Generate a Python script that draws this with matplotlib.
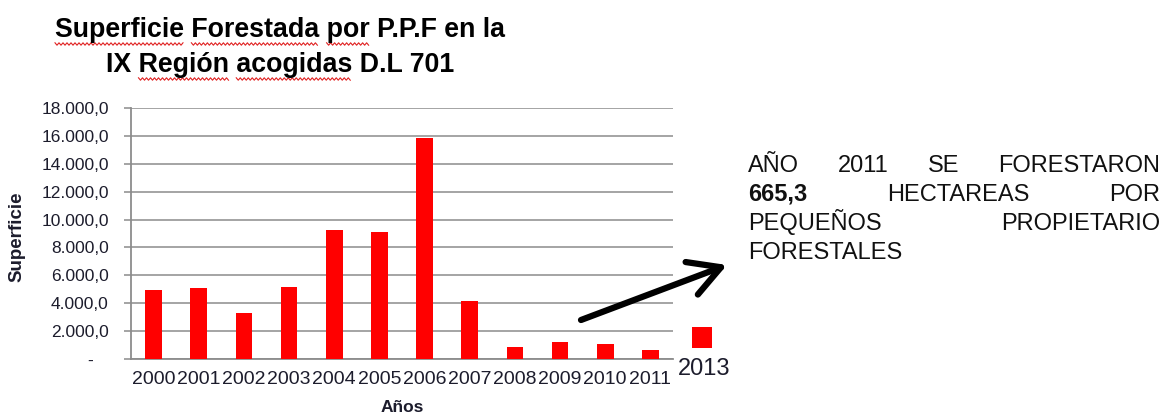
import matplotlib
matplotlib.use('Agg')
import matplotlib.pyplot as plt
from matplotlib.font_manager import FontProperties
from matplotlib.lines import Line2D
from matplotlib.ticker import FuncFormatter
import numpy as np

# data
years = ['2000', '2001', '2002', '2003', '2004', '2005',
         '2006', '2007', '2008', '2009', '2010', '2011']
superficie = [4950, 5070, 3320, 5190, 9230, 9130,
              15830, 4180, 885, 1195, 1100, 665.3]
extra_year = '2013'
extra_bottom = 790
extra_height = 1505

title_lines = ['Superficie Forestada por P.P.F en la', 'IX Región acogidas D.L 701']
flagged_words = [['Superficie', 'Forestada', 'por'], ['Región', 'acogidas']]
note_lines = [
    [('AÑO', False), ('2011', False), ('SE', False), ('FORESTARON', False)],
    [('665,3', True), ('HECTAREAS', False), ('POR', False)],
    [('PEQUEÑOS', False), ('PROPIETARIO', False)],
    [('FORESTALES', False)],
]

W, H = 1162, 413
TXT = '#1c1c2c'
GRID = '#8c8c8c'
plt.rcParams['font.family'] = ['Liberation Sans', 'DejaVu Sans']

fig = plt.figure(figsize=(W / 100, H / 100), dpi=100)
ax = fig.add_axes([131 / W, 1 - 359 / H, (673 - 131) / W, (359 - 108) / H])

x = np.arange(len(years))
ax.bar(x, superficie, width=0.37, color='#ff0000', zorder=3)
# the odd extra square pasted beside the plot
ax.bar([12.14], [extra_height], bottom=[extra_bottom], width=0.46,
       color='#ff0000', clip_on=False, zorder=3)
ax.text(12.19, -720, extra_year, fontsize=17, color=TXT, ha='center',
        va='center', clip_on=False)

ax.set_xlim(-0.5, 11.5)
ax.set_ylim(0, 18000)
ax.set_xticks(x)
ax.set_xticklabels(years)
ax.set_yticks(np.arange(0, 18001, 2000))


def fmt(v, _):
    if v == 0:
        return '-   '
    s = f'{v:,.1f}'
    return s.replace(',', 'X').replace('.', ',').replace('X', '.')


ax.yaxis.set_major_formatter(FuncFormatter(fmt))
ax.yaxis.grid(True, color=GRID, lw=1.1)
ax.set_axisbelow(True)
for s in ['top', 'right']:
    ax.spines[s].set_visible(False)
for s in ['left', 'bottom']:
    ax.spines[s].set_color(GRID)
    ax.spines[s].set_linewidth(1.3)
ax.tick_params(axis='y', length=5, color=GRID, width=1.1, labelsize=12.5,
               labelcolor=TXT, pad=11)
ax.tick_params(axis='x', length=0, labelsize=14, labelcolor=TXT, pad=9)

fig.text(17 / W, 1 - 237 / H, 'Superficie', rotation=90, fontsize=13.5,
         fontweight='bold', color=TXT, ha='center', va='center')
fig.text(402 / W, 1 - 412 / H, 'Años', fontsize=12.5, fontweight='bold',
         color=TXT, ha='center', va='baseline')

renderer = fig.canvas.get_renderer()


def width_px(s, prop):
    w, h, d = renderer.get_text_width_height_descent(s, prop, ismath=False)
    return w


# title, sized so the first line spans the reference width
tprop = FontProperties(family='Liberation Sans', weight='bold', size=24)
tprop.set_size(24 * 452 / width_px(title_lines[0], tprop))

for line, base, words in zip(title_lines, [37, 72], flagged_words):
    fig.text(280 / W, 1 - base / H, line, fontproperties=tprop,
             ha='center', va='baseline', color='black')
    x0 = 280 - width_px(line, tprop) / 2
    for wd in words:
        i = line.index(wd)
        xs0 = x0 + (width_px(line[:i], tprop) if i else 0)
        xs1 = xs0 + width_px(wd, tprop)
        xs = np.arange(xs0, xs1, 2.0)
        ys = base + 7 + np.where(np.arange(len(xs)) % 2 == 0, -1.2, 1.2)
        fig.add_artist(Line2D(xs / W, 1 - ys / H, color='#e02020', lw=0.8,
                              transform=fig.transFigure))

# justified note on the right
nprop = FontProperties(family='Liberation Sans', size=17)
bprop = FontProperties(family='Liberation Sans', size=17, weight='bold')
left, right = 748, 1160
for k, (words, base) in enumerate(zip(note_lines, [172, 201, 230, 259])):
    widths = [width_px(w, bprop if b else nprop) for w, b in words]
    last = k == len(note_lines) - 1
    if len(words) > 1 and not last:
        gap = (right - left - sum(widths)) / (len(words) - 1)
    else:
        gap = width_px(' ', nprop)
    xc = left
    for (w, b), wd in zip(words, widths):
        fig.text(xc / W, 1 - base / H, w, fontproperties=bprop if b else nprop,
                 color='#111111', ha='left', va='baseline')
        xc += wd + gap

ax.annotate('', xy=(727, H - 265), xycoords='figure pixels',
            xytext=(581, H - 320), textcoords='figure pixels',
            arrowprops=dict(arrowstyle='->,head_length=0.9,head_width=0.5',
                            lw=4.5, color='black', mutation_scale=25,
                            shrinkA=0, shrinkB=0))

fig.savefig('out.png', dpi=100)
